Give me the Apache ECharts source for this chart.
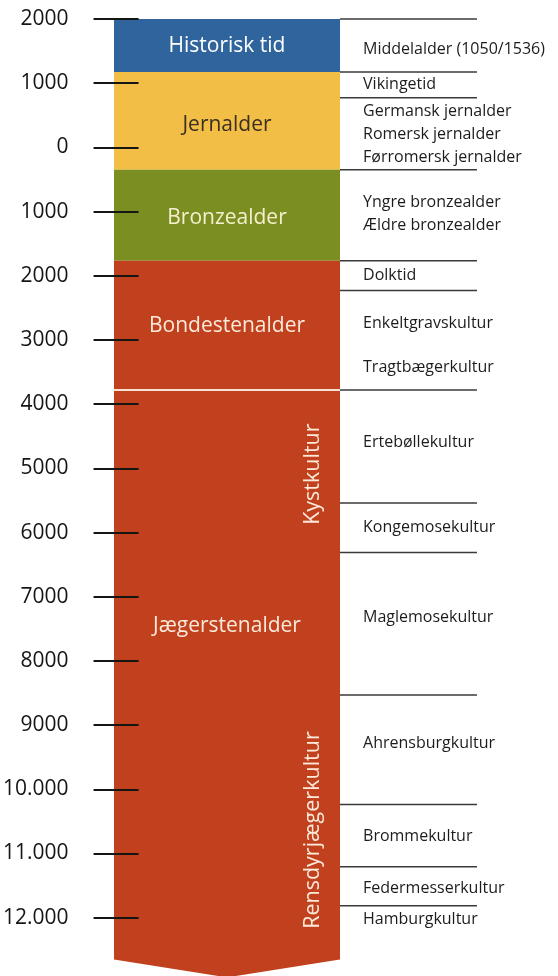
<!DOCTYPE html>
<html>
<head>
<meta charset="utf-8">
<script src="https://cdn.jsdelivr.net/npm/echarts@6/dist/echarts.min.js"></script>
<style>
  html, body { margin: 0; padding: 0; background: #fff; }
  #main { width: 558px; height: 976px; }
</style>
</head>
<body>
<div id="main"></div>
<script>
// år: positive = e.Kr., negative = f.Kr.
var tickValues = [2000, 1000, 0, -1000, -2000, -3000, -4000, -5000, -6000, -7000, -8000, -9000, -10000, -11000, -12000];
var tickLabels = ['2000', '1000', '0', '1000', '2000', '3000', '4000', '5000', '6000', '7000', '8000', '9000', '10.000', '11.000', '12.000'];

// hovedperioder (søjlen)
var eraNames = ['Historisk tid', 'Jernalder', 'Bronzealder', 'Bondestenalder', 'Jægerstenalder'];
var eraTop = [2000, 1175, -350, -1765, -3780];
var eraBottom = [1175, -350, -1765, -3780, -12650];
var eraLabelYear = [1580, 350, -1100, -2780, -7450];
var tipYear = -12930;

// underperioder (til højre)
var subBounds = [2000, 1175, 775, -350, -1765, -2230, -3780, -5540, -6310, -8530, -10235, -11205, -11815];
var subNames = ['Middelalder (1050/1536)', 'Vikingetid', 'Germansk jernalder', 'Romersk jernalder', 'Førromersk jernalder',
  'Yngre bronzealder', 'Ældre bronzealder', 'Dolktid', 'Enkeltgravskultur', 'Tragtbægerkultur',
  'Ertebøllekultur', 'Kongemosekultur', 'Maglemosekultur', 'Ahrensburgkultur', 'Brommekultur',
  'Federmesserkultur', 'Hamburgkultur'];
var subYears = [1530, 985, 555, 200, -155, -850, -1210, -1990, -2735, -3435, -4590, -5915, -7315, -9280, -10730, -11540, -12025];

// lodrette tekster i jægerstenalderen
var sideNames = ['Kystkultur', 'Rensdyrjægerkultur'];
var sideYears = [-5090, -10635];

var eraColors = ['#2f649d', '#f2be45', '#7a8e22', '#c1401d', '#c1401d'];
var eraTextColors = ['#ffffff', '#3a2f22', '#f6efcf', '#fbeadb', '#fbeadb'];
var FONT = '"Open Sans", "DejaVu Sans", sans-serif';

var chart = echarts.init(document.getElementById('main'), null, { renderer: 'canvas' });

function renderEra(params, api) {
  var i = params.dataIndex;
  var tl = api.coord([0, api.value(1)]);
  var br = api.coord([1, api.value(2)]);
  var pts;
  if (i === eraNames.length - 1) {
    var tip = api.coord([0.5, tipYear]);
    pts = [[tl[0], tl[1]], [br[0], tl[1]], [br[0], br[1]], tip, [tl[0], br[1]]];
  } else {
    pts = [[tl[0], tl[1]], [br[0], tl[1]], [br[0], br[1]], [tl[0], br[1]]];
  }
  var children = [{ type: 'polygon', shape: { points: pts }, style: { fill: eraColors[i] } }];
  if (i > 0 && eraColors[i] === eraColors[i - 1]) {
    children.push({ type: 'line', shape: { x1: tl[0], y1: tl[1], x2: br[0], y2: tl[1] }, style: { stroke: '#f7e3d4', lineWidth: 2 } });
  }
  var lp = api.coord([0.5, eraLabelYear[i]]);
  children.push({
    type: 'text', x: lp[0], y: lp[1],
    style: { text: eraNames[i], fill: eraTextColors[i], font: '21px ' + FONT, align: 'center', verticalAlign: 'middle' }
  });
  return { type: 'group', children: children };
}

function renderBound(params, api) {
  var a = api.coord([1, api.value(0)]);
  var b = api.coord([1.606, api.value(0)]);
  return { type: 'line', shape: { x1: a[0], y1: a[1], x2: b[0], y2: b[1] }, style: { stroke: '#3a3a3a', lineWidth: 1.5 } };
}

function renderSub(params, api) {
  var p = api.coord([1.102, api.value(0)]);
  return {
    type: 'text', x: p[0], y: p[1],
    style: { text: subNames[params.dataIndex], fill: '#1c1c1c', font: '16px ' + FONT, align: 'left', verticalAlign: 'middle' }
  };
}

function renderSide(params, api) {
  var p = api.coord([0.878, api.value(0)]);
  return {
    type: 'text', x: p[0], y: p[1], rotation: Math.PI / 2,
    style: { text: sideNames[params.dataIndex], fill: '#fbeadb', font: '21.5px ' + FONT, align: 'center', verticalAlign: 'middle' }
  };
}

var option = {
  animation: false,
  grid: [
    { left: 114, width: 226, top: 19, height: 898.7 },
    // kun til årstalsaksen, så stregerne går ind over søjlen
    { left: 136, width: 204, top: 19, height: 898.7 }
  ],
  xAxis: [
    { type: 'value', min: 0, max: 1, show: false, gridIndex: 0 },
    { type: 'value', min: 0, max: 1, show: false, gridIndex: 1 }
  ],
  yAxis: [
    { type: 'value', min: -12000, max: 2000, show: false, gridIndex: 0 },
    {
      type: 'value',
      gridIndex: 1,
      min: -12000,
      max: 2000,
      interval: 1000,
      z: 10,
      axisLine: { show: false },
      splitLine: { show: false },
      axisTick: { show: true, length: 45, lineStyle: { color: '#151515', width: 2 } },
      axisLabel: {
        margin: 70,
        color: '#151515',
        fontSize: 21,
        fontFamily: FONT,
        formatter: function (v) {
          var k = tickValues.indexOf(v);
          return k >= 0 ? tickLabels[k] : '';
        }
      }
    }
  ],
  series: [
    {
      type: 'custom',
      renderItem: renderEra,
      encode: { x: 0, y: [1, 2] },
      data: eraNames.map(function (n, i) { return [0, eraTop[i], eraBottom[i]]; }),
      z: 2
    },
    {
      type: 'custom',
      renderItem: renderBound,
      encode: { y: 0 },
      data: subBounds.map(function (y) { return [y]; }),
      z: 3
    },
    {
      type: 'custom',
      renderItem: renderSub,
      encode: { y: 0 },
      data: subYears.map(function (y) { return [y]; }),
      z: 3
    },
    {
      type: 'custom',
      renderItem: renderSide,
      encode: { y: 0 },
      data: sideYears.map(function (y) { return [y]; }),
      z: 4
    }
  ]
};

chart.setOption(option);
</script>
</body>
</html>
